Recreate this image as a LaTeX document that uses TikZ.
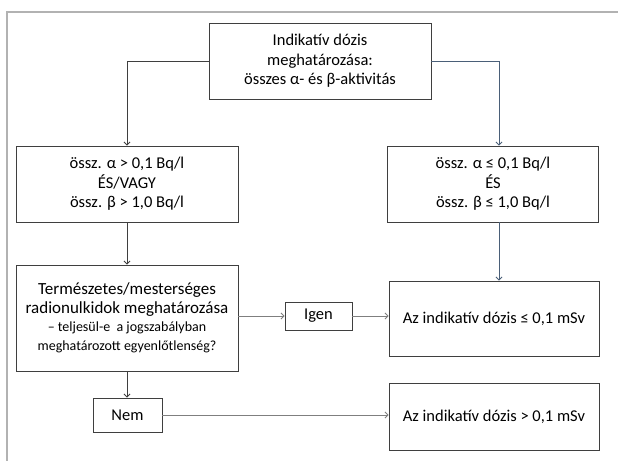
\documentclass[tikz,border=0pt]{standalone}
\usepackage{fontspec}
\setmainfont{Carlito}
\usetikzlibrary{arrows.meta}
\definecolor{boxline}{HTML}{3F3F3F}
\definecolor{bluearrow}{HTML}{4A5F78}
\definecolor{greyarrow}{HTML}{7F7F7F}

\begin{document}
\begin{tikzpicture}[x=1pt, y=-1pt,
  box/.style={draw=boxline, line width=0.9pt, align=center, inner sep=0pt,
    font=\fontsize{16.5}{19.5}\selectfont},
  flow/.style={-{Straight Barb[length=3pt,width=6pt]}, line width=0.9pt, draw=boxline},
  side/.style={flow, draw=greyarrow}]
\useasboundingbox (0,0) rectangle (618,461);
\draw[black!30, line width=2pt] (618,12) -- (7,12) -- (7,461);
\node[box, minimum width=222, minimum height=76] (dose) at (320,61) {Indikatív dózis\\meghatározása:\\összes α- és β-aktivitás};
\node[box, minimum width=222, minimum height=76] (alphaHigh) at (127,184) {össz. α > 0,1 Bq/l\\ÉS/VAGY\\össz. β > 1,0 Bq/l};
\node[box, minimum width=211, minimum height=76] (alphaLow) at (493,184) {össz. α ≤ 0,1 Bq/l\\ÉS\\össz. β ≤ 1,0 Bq/l};
\node[box, minimum width=222, minimum height=106, font=\fontsize{17}{18.5}\selectfont] (check) at (127,318) {Természetes/mesterséges\\radionulkidok meghatározása\\{\fontsize{14}{18.5}\selectfont – teljesül-e\ \ a jogszabályban}\\{\fontsize{14}{18.5}\selectfont meghatározott egyenlőtlenség?}};
\node[box, minimum width=67, minimum height=28] (igen) at (318.5,316) {Igen};
\node[box, minimum width=210, minimum height=75] (lowDose) at (494,318.5) {Az indikatív dózis ≤ 0,1 mSv};
\node[box, minimum width=69, minimum height=34] (nem) at (127.5,415) {Nem};
\node[box, minimum width=210, minimum height=67] (highDose) at (494,416.5) {Az indikatív dózis > 0,1 mSv};
\draw[flow] (dose.west) -| (alphaHigh.north);
\draw[flow, draw=bluearrow] (dose.east) -| ([xshift=6]alphaLow.north);
\draw[flow] (alphaHigh.south) -- (check.north);
\draw[flow, draw=bluearrow] ([xshift=6]alphaLow.south) -- ([xshift=5]lowDose.north);
\draw[side] (check.east |- igen) -- (igen.west);
\draw[side] (igen.east) -- (lowDose.west |- igen);
\draw[flow] (check.south) -- (nem.north -| check.south);
\draw[side] (nem.east) -- (highDose.west |- nem);
\end{tikzpicture}
\end{document}
